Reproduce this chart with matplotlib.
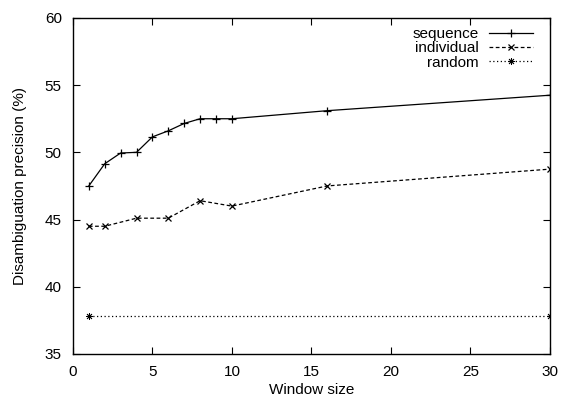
import matplotlib

matplotlib.use("Agg")

import matplotlib.pyplot as plt

plt.rcParams["font.family"] = ["Liberation Sans", "DejaVu Sans"]
plt.rcParams["font.size"] = 11

# ==================================================
# Data
# ==================================================
seq_x = [1, 2, 3, 4, 5, 6, 7, 8, 9, 10, 16, 30]
seq_y = [47.5, 49.15, 49.95, 50.0, 51.15, 51.6, 52.15, 52.5, 52.5, 52.5, 53.1, 54.25]

ind_x = [1, 2, 4, 6, 8, 10, 16, 30]
ind_y = [44.5, 44.5, 45.1, 45.1, 46.4, 46.0, 47.5, 48.75]

rnd_x = [1, 30]
rnd_y = [37.85, 37.85]

x_ticks = [0, 5, 10, 15, 20, 25, 30]
y_ticks = [35, 40, 45, 50, 55, 60]

# ==================================================
# Plot
# ==================================================
fig = plt.figure(figsize=(5.61, 3.99), dpi=100)
ax = fig.add_axes([0.130, 0.113, 0.850, 0.842])

ax.plot(seq_x, seq_y, color="black", linewidth=0.9, linestyle="-",
        marker="+", markersize=6, markeredgewidth=0.9, label="sequence")
ax.plot(ind_x, ind_y, color="black", linewidth=0.9, linestyle=(0, (3, 2)),
        marker="x", markersize=4.5, markeredgewidth=0.9, label="individual")
ax.plot(rnd_x, rnd_y, color="black", linewidth=0.9, linestyle=(0, (1, 2)),
        marker=(8, 2, 0), markersize=5, markeredgewidth=0.6, label="random")

ax.set_xlim(0, 30)
ax.set_ylim(35, 60)
ax.set_xticks(x_ticks)
ax.set_yticks(y_ticks)
ax.tick_params(direction="in", top=True, right=True, length=5, width=0.8,
               labelsize=11, pad=8)
for sp in ax.spines.values():
    sp.set_linewidth(1.0)

ax.set_xlabel("Window size", labelpad=3)
ax.set_ylabel("Disambiguation precision (%)", labelpad=13)

ax.legend(loc="upper right", frameon=False, markerfirst=False,
          handlelength=2.9, handletextpad=0.7, labelspacing=0.02,
          borderaxespad=0.5, borderpad=0.2, fontsize=11,
          bbox_to_anchor=(0.988, 1.005))

plt.savefig("out.png", dpi=100)
plt.close()
